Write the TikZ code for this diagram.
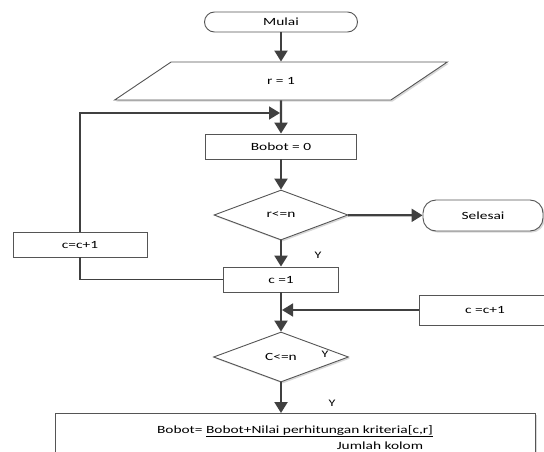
\documentclass[tikz,border=0pt]{standalone}
\usepackage{fontspec}
\setmainfont{Carlito}[FakeStretch=1.4]
\usepackage{tikz}
\usetikzlibrary{positioning}
\usetikzlibrary{shapes.geometric}
\usetikzlibrary{shadows}
\usetikzlibrary{arrows.meta}

\definecolor{flowline}{HTML}{404040}
\definecolor{flowedge}{HTML}{555555}

\tikzset{
  box/.style={rectangle, draw=flowedge, line width=0.9pt, inner sep=2pt,
    fill=white, font=\fontsize{11}{13}\selectfont},
  terminal/.style={box, rounded corners=10pt},
  decision/.style={diamond, draw=flowedge, line width=0.9pt, inner sep=0pt,
    fill=white, font=\fontsize{11}{13}\selectfont},
  lightshadow/.style={drop shadow={shadow xshift=1.6pt, shadow yshift=-1.6pt,
      fill=black!30, opacity=0.5}},
  flow/.style={draw=flowline, line width=2.2pt,
    -{Triangle[length=11pt,width=13pt]}},
  loopline/.style={draw=flowline, line width=1.7pt},
  ylabel/.style={font=\fontsize{10}{12}\selectfont}
}

\begin{document}
\begin{tikzpicture}[x=1pt,y=-1pt]
    \clip (0,0) rectangle (544,452);

    % main column
    \node [terminal, minimum width=153pt, minimum height=20pt] (mulai) at (281,22) {Mulai};
    \node [box, trapezium, trapezium stretches=true,
    trapezium left angle=53.6, trapezium right angle=126.4,
    minimum width=334pt, minimum height=38pt, lightshadow] (input) at (281,81) {r = 1};
    \node [box, minimum width=151pt, minimum height=25pt] (bobot) at (281,146.5) {Bobot = 0};
    \node [decision, minimum width=134pt, minimum height=50pt, lightshadow] (cekr) at (281,215) {r<=n};
    \node [terminal, rounded corners=13pt, minimum width=120pt, minimum height=31pt, lightshadow] (selesai) at (483,215.5) {Selesai};
    \node [box, minimum width=115pt, minimum height=25pt] (cawal) at (281,279.5) {c =1};
    \node [decision, minimum width=135pt, minimum height=50pt, lightshadow] (cekc) at (281,357) {C<=n};
    \node [box, anchor=north, align=center, minimum width=480pt, minimum height=48pt, lightshadow] (hitung) at (295,413)
    {Bobot= \underline{Bobot+Nilai perhitungan kriteria[c,r]}\\[3pt]\hspace*{170pt}Jumlah kolom};

    % side boxes
    \node [box, minimum width=134pt, minimum height=25pt] (ctambah) at (80,244.5) {c=c+1};
    \node [box, minimum width=132pt, minimum height=30pt] (cnaik) at (485,310) {c =c+1};

    \coordinate (join1) at (280,113);
    \coordinate (join2) at (282,310);

    % connectors
    \draw [flow] (mulai) -- (input);
    \draw [flow] (input) -- (bobot);
    \draw [flow] (bobot) -- (cekr);
    \draw [flow] (cekr) -- (selesai);
    \draw [flow] (cekr) -- (cawal);
    \draw [flow] (cawal) -- (cekc);
    \draw [flow] (cekc.south) -- (cekc.south |- hitung.north);
    \draw [loopline] (cawal.west) -| (ctambah.south);
    \draw [loopline, -{Triangle[length=11pt,width=13pt]}] (ctambah.north) |- (join1);
    \draw [loopline, -{Triangle[length=11pt,width=13pt]}] (cnaik.west) -- (join2);

    % labels
    \node [ylabel] (ya1) at (318,255) {Y};
    \node [ylabel] (ya2) at (325,354) {Y};
    \node [ylabel] (ya3) at (332,403) {Y};
\end{tikzpicture}
\end{document}
